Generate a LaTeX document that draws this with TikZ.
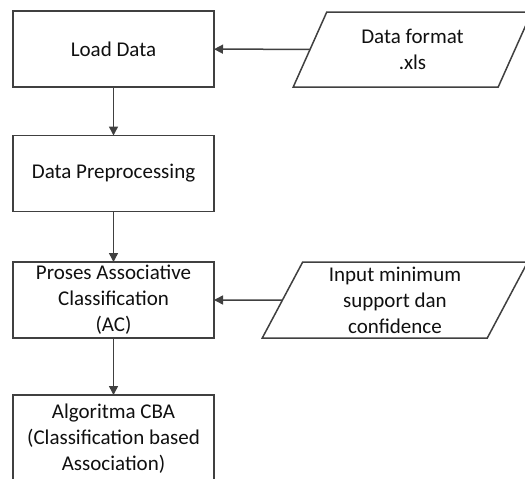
\documentclass[tikz,border=0pt]{standalone}
\usepackage{fontspec}
\setmainfont{Carlito}
\usetikzlibrary{arrows.meta,shapes.geometric}
\definecolor{linegray}{HTML}{404040}
\definecolor{textgray}{HTML}{101010}
\tikzset{
  procbox/.style={draw=linegray, line width=1.5pt, fill=white, minimum width=201pt, minimum height=76pt,
    inner sep=0pt, outer sep=0pt, align=center, font=\fontsize{21pt}{26pt}\selectfont, text=textgray},
  iobox/.style={draw=linegray, line width=1.5pt, fill=white, trapezium, trapezium stretches=true,
    minimum height=75pt, inner sep=0pt, outer sep=0pt, align=center,
    font=\fontsize{21pt}{26pt}\selectfont, text=textgray},
  flow/.style={draw=linegray, line width=1.5pt, -{Triangle[length=9pt,width=9pt]}}
}
\begin{document}
\begin{tikzpicture}[x=1pt,y=-1pt]
\useasboundingbox (0,0) rectangle (525,479);
\node[procbox] (load) at (113.5,49) {Load Data};
\node[procbox] (prep) at (113.5,173.5) {Data Preprocessing};
\node[procbox] (ac) at (113.5,300) {Proses Associative\\Classification\\(AC)};
\node[procbox, minimum height=110pt, anchor=north] (cba) at (113.5,395) {};
\node[align=center, font=\fontsize{21pt}{26pt}\selectfont, text=textgray, anchor=north] (cbatext) at (113.5,400) {Algoritma CBA\\(Classification based\\Association)};
\node[iobox, minimum width=239pt, trapezium left angle=63.7, trapezium right angle=116.3] (fmt) at (412.5,49.5) {Data format\\.xls};
\node[iobox, minimum width=266pt, minimum height=76pt, trapezium left angle=66.5, trapezium right angle=113.5] (inp) at (395,300) {Input minimum\\support dan\\confidence};
\draw[flow] (load) -- (prep);
\draw[flow] (prep) -- (ac);
\draw[flow] (ac) -- (cba);
\draw[flow] (fmt) -- (load);
\draw[flow] (inp) -- (ac);
\end{tikzpicture}
\end{document}
